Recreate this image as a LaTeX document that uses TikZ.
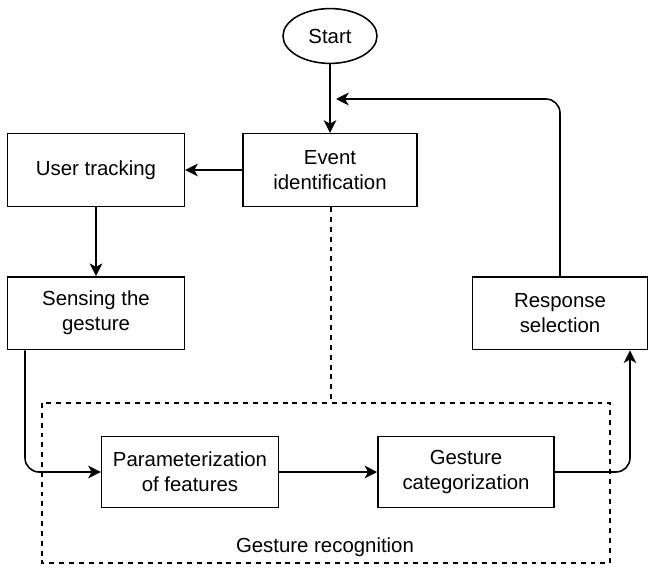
\documentclass[tikz,border=0pt]{standalone}
\usepackage{fontspec}
\setmainfont{Liberation Sans}
\usetikzlibrary{positioning,arrows.meta,shapes.geometric}

\begin{document}
\begin{tikzpicture}[
font=\fontsize{14.5}{17.8}\selectfont,
square/.style={rectangle, draw=black, fill=white, line width=1.1pt, align=center, minimum width=43.5mm, minimum height=18.2mm},
oval/.style={ellipse, draw=black, fill=white, line width=1.1pt, minimum width=23.5mm, minimum height=13.7mm, inner sep=0pt},
out_arrow/.style={-{Stealth[length=9pt,width=9pt,inset=2.5pt]}, line width=1.1pt},
group_box/.style={draw=black, line width=1.1pt, dash pattern=on 3.5pt off 3.5pt}
]
\useasboundingbox (0,0) rectangle (16.2,-14.175);

% \node[type](name_of_node) at (x,y) {node_text}
\node[oval](start) at (8.25,-0.9) {Start};

\node[square, minimum width=43.5mm](event_identification) at (8.25,-4.25) {Event\\identification};
\node[square, minimum width=44.2mm](user_tracking) at (2.4,-4.25) {User tracking};

\node[square, minimum width=44.2mm](sensing_gesture) at (2.4,-7.83) {Sensing the\\gesture};
\node[square, minimum width=43.8mm](response_selection) at (14.0,-7.83) {Response\\selection};

\node[square, minimum width=44.2mm, minimum height=17.8mm](parameterization) at (4.75,-11.8) {Parameterization\\of features};
\node[square, minimum width=44mm, minimum height=17.8mm](categorization) at (11.65,-11.8) {Gesture\\categorization};

% dashed group round the recognition steps
\coordinate (group_nw) at (1.05,-10.075);
\coordinate (group_se) at (15.25,-14.075);
\draw[group_box](group_nw) rectangle (group_se);
\node(group_label) at (8.125,-13.67) {Gesture recognition};
\coordinate (group_top) at (8.275,-10.075);

\coordinate (loop_end) at (8.4,-2.475);

% \draw[->](name_of_node.direction) -- (name_of_node.direction)
\draw[out_arrow](start) -- (event_identification);
\draw[out_arrow](event_identification) -- (user_tracking);
\draw[out_arrow](user_tracking) -- (sensing_gesture);

\draw[group_box](event_identification.south -| group_top) -- (group_top);

\draw[out_arrow, rounded corners=10pt](sensing_gesture.south -| 0.625,0) |- (parameterization.west);
\draw[out_arrow](parameterization) -- (categorization);
\draw[out_arrow, rounded corners=10pt](categorization.east) -| (response_selection.south -| 15.75,0);

\draw[out_arrow, rounded corners=10pt](response_selection.north) |- (loop_end);

\end{tikzpicture}
\end{document}
